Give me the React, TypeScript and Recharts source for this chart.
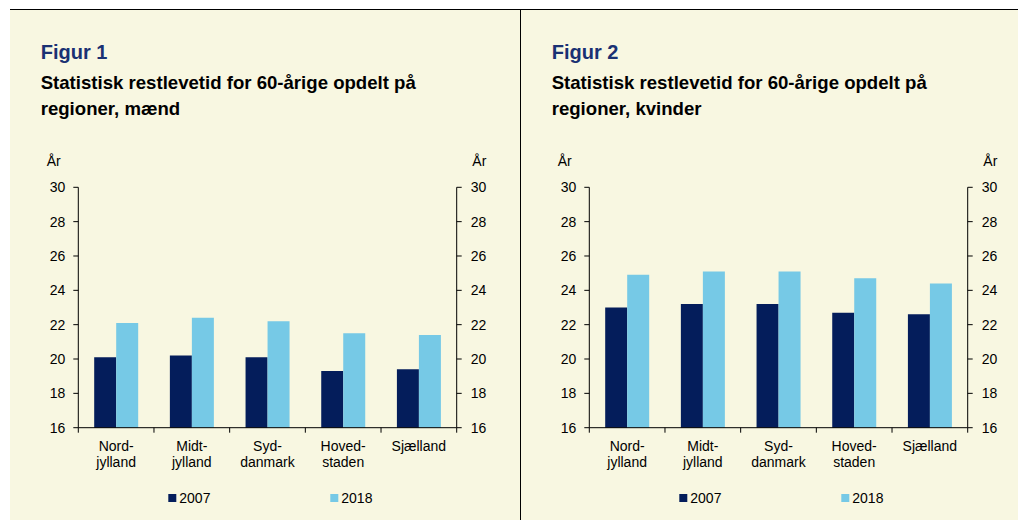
import React from "react";
import { Bar, BarChart, XAxis, YAxis } from "recharts";

const regions = ["Nordjylland", "Midtjylland", "Syddanmark", "Hovedstaden", "Sjælland"];
const regionLabels = [
  ["Nord-", "jylland"],
  ["Midt-", "jylland"],
  ["Syd-", "danmark"],
  ["Hoved-", "staden"],
  ["Sjælland"],
];
const men2007 = [20.1, 20.2, 20.1, 19.3, 19.4];
const men2018 = [22.1, 22.4, 22.2, 21.5, 21.4];
const women2007 = [23.0, 23.2, 23.2, 22.7, 22.6];
const women2018 = [24.9, 25.1, 25.1, 24.7, 24.4];
const yTicks = [16, 18, 20, 22, 24, 26, 28, 30];
const seriesNames = ["2007", "2018"];

const DARK = "#041d5b";
const LIGHT = "#76c9e6";
const CREAM = "#f8f7e1";
const FONT = "'Liberation Sans', Arial, sans-serif";

const menData = regions.map((r, i) => ({ name: r, a: men2007[i], b: men2018[i] }));
const womenData = regions.map((r, i) => ({ name: r, a: women2007[i], b: women2018[i] }));

function CatTick(props: any) {
  const { x, y, payload, index } = props;
  const half = payload.offset ?? 37.8;
  const lines = regionLabels[index] || [String(payload.value)];
  const last = index === regions.length - 1;
  return (
    <g>
      <line x1={x - half} x2={x - half} y1={y} y2={y + 5} stroke="#000" />
      {last && <line x1={x + half} x2={x + half} y1={y} y2={y + 5} stroke="#000" />}
      {lines.map((t: string, i: number) => (
        <text key={i} x={x} y={y + 23.3 + i * 15.7} textAnchor="middle" fontSize={14} fill="#000" fontFamily={FONT}>
          {t}
        </text>
      ))}
    </g>
  );
}

function Panel({ dx, figur, sub, data }: { dx: number; figur: string; sub: string[]; data: any[] }) {
  const tick = { fill: "#000", fontSize: 14, fontFamily: FONT };
  return (
    <>
      <svg
        width={510}
        height={520}
        style={{ position: "absolute", left: dx, top: 0 }}
        fontFamily={FONT}
      >
        <text x={40.7} y={59.3} fontSize={20} fontWeight="bold" fill="#1a3173">
          {figur}
        </text>
        {sub.map((s, i) => (
          <text key={i} x={40.7} y={88.5 + i * 26.2} fontSize={18.6} fontWeight="bold" fill="#000">
            {s}
          </text>
        ))}
        <text x={46.7} y={165.7} fontSize={14} fill="#000">År</text>
        <text x={472.3} y={165.7} fontSize={14} fill="#000">År</text>
        {seriesNames.map((n, i) => (
          <g key={n}>
            <rect x={168.3 + i * 162} y={494} width={8} height={8} fill={i === 0 ? DARK : LIGHT} />
            <text x={179.3 + i * 162} y={503} fontSize={14} fill="#000">{n}</text>
          </g>
        ))}
      </svg>
      <div style={{ position: "absolute", left: 10 + dx, top: 170 }}>
        <BarChart
          width={496}
          height={300}
          data={data}
          margin={{ top: 17.3, right: 0, bottom: 0, left: 0 }}
          barCategoryGap="21%"
          barGap={0}
        >
          <XAxis
            dataKey="name"
            height={42.3}
            axisLine={{ stroke: "#000" }}
            tickLine={false}
            tickSize={0}
            tickMargin={0}
            interval={0}
            tick={<CatTick />}
          />
          <YAxis
            yAxisId="left"
            width={68.3}
            domain={[16, 30]}
            ticks={yTicks}
            interval={0}
            axisLine={{ stroke: "#000" }}
            tickLine={{ stroke: "#000" }}
            tickSize={5}
            tickMargin={8}
            tick={tick}
          />
          <YAxis
            yAxisId="right"
            orientation="right"
            width={49.3}
            domain={[16, 30]}
            ticks={yTicks}
            interval={0}
            axisLine={{ stroke: "#000" }}
            tickLine={{ stroke: "#000" }}
            tickSize={5}
            tickMargin={9}
            tick={tick}
          />
          <Bar yAxisId="left" dataKey="a" name={seriesNames[0]} fill={DARK} isAnimationActive={false} />
          <Bar yAxisId="right" dataKey="b" name={seriesNames[1]} fill={LIGHT} isAnimationActive={false} />
        </BarChart>
      </div>
    </>
  );
}

export default function App() {
  return (
    <div
      style={{
        position: "absolute",
        left: 0,
        top: 0,
        width: 1018,
        height: 520,
        overflow: "hidden",
        background: "#fff",
      }}
    >
      <div style={{ position: "absolute", left: 10, top: 10, width: 1008, height: 510, background: CREAM }} />
      <div style={{ position: "absolute", left: 10, top: 9, width: 1008, height: 1, background: "#000" }} />
      <div style={{ position: "absolute", left: 519.5, top: 9, width: 1.5, height: 511, background: "#000" }} />
      <Panel
        dx={0}
        figur="Figur 1"
        sub={["Statistisk restlevetid for 60-årige opdelt på", "regioner, mænd"]}
        data={menData}
      />
      <Panel
        dx={511}
        figur="Figur 2"
        sub={["Statistisk restlevetid for 60-årige opdelt på", "regioner, kvinder"]}
        data={womenData}
      />
    </div>
  );
}
